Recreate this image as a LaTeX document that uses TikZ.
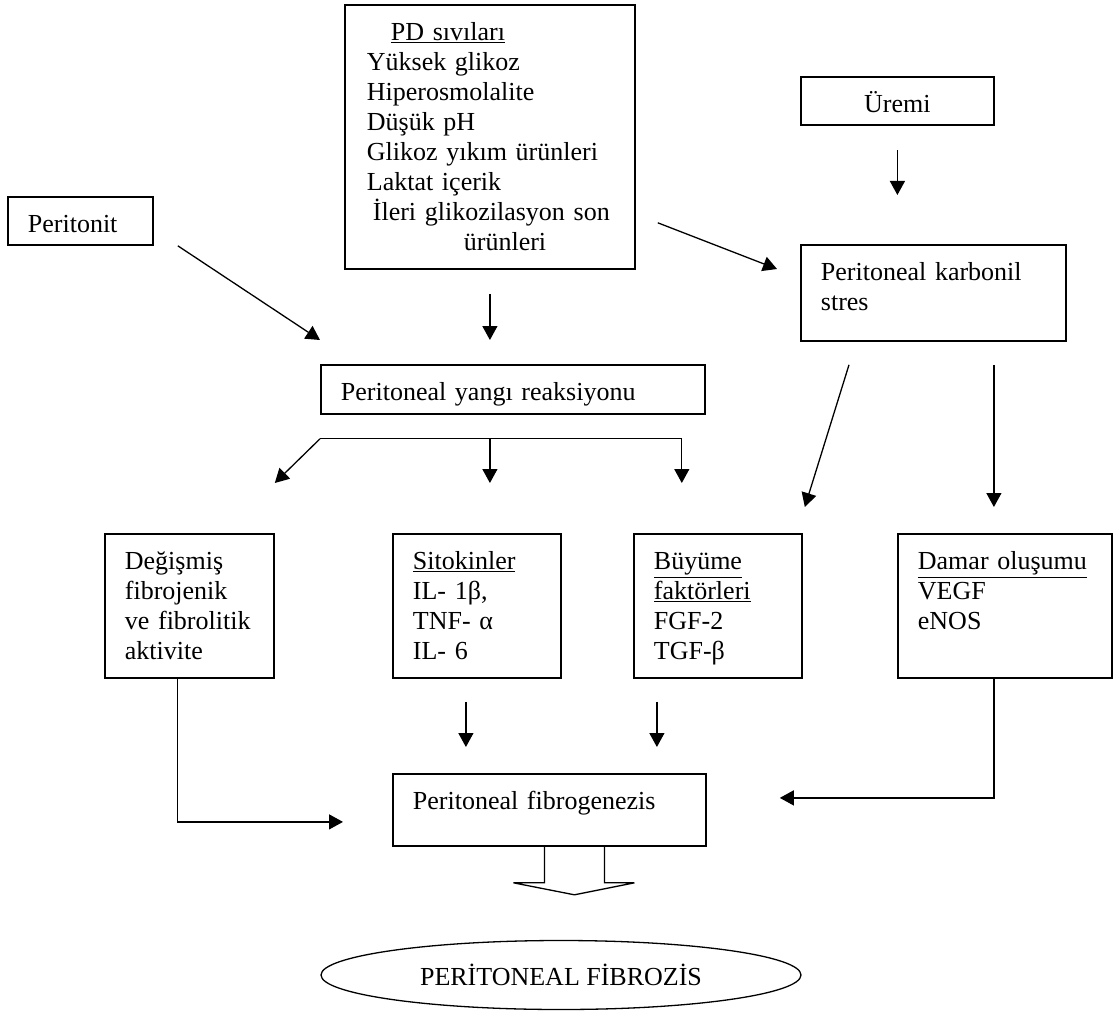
\documentclass[tikz,border=0pt]{standalone}
\usepackage{fontspec}
\setmainfont{Liberation Serif}
\usetikzlibrary{arrows.meta,shapes.geometric}
\tikzset{
    factor/.style={
        rectangle, draw, line width=1.8pt,
        anchor=north west, align=left,
        inner xsep=20pt, inner ysep=12pt,
        text height=24pt, text depth=0pt
    },
    outcome/.style={
        ellipse, draw, line width=1.3pt,
        minimum width=480pt, minimum height=69pt,
        inner sep=0pt
    }
}
\begin{document}
\begin{tikzpicture}[x=1pt, y=-1pt, >={Triangle[length=14pt,width=15pt]},
        line width=1.3pt, font=\fontsize{26}{30}\selectfont]

        \useasboundingbox (0,0) rectangle (1113,1011);

        % Causes
        \node[factor, text width=105pt] (peritonit) at (7,196) {Peritonit};
        \node[factor, inner xsep=22pt, text width=246pt, text depth=216pt] (pd) at (344,4)
            {\hspace*{24pt}\underline{PD sıvıları}\\Yüksek glikoz\\Hiperosmolalite\\Düşük pH\\Glikoz yıkım ürünleri\\Laktat içerik\\\hspace*{6pt}İleri glikozilasyon son\\\hspace*{97pt}ürünleri};
        \node[factor, align=center, text width=153pt] (uremi) at (800,76) {Üremi};
        \node[factor, text width=225pt, text depth=48pt] (karbonil) at (800,244) {Peritoneal karbonil\\stres};
        \node[factor, text width=344pt, text depth=1pt] (yangi) at (320,364) {Peritoneal yangı reaksiyonu};

        % Factors
        \node[factor, text width=129pt, text depth=96pt] (degismis) at (104,533) {Değişmiş\\fibrojenik\\ve fibrolitik\\aktivite};
        \node[factor, text width=128pt, text depth=96pt] (sitokin) at (392,533) {\underline{Sitokinler}\\IL- 1β,\\TNF- α\\IL- 6};
        \node[factor, text width=128pt, text depth=96pt] (buyume) at (633,533) {\underline{Büyüme}\\\underline{faktörleri}\\FGF-2\\TGF-β};
        \node[factor, text width=174pt, text depth=96pt] (damar) at (897,533) {\underline{Damar oluşumu}\\VEGF\\eNOS};

        % Outcome
        \node[factor, text width=273pt, text depth=24pt] (fib) at (392,773) {Peritoneal fibrogenezis};
        \node[outcome] (fibrozis) at (561,975) {PERİTONEAL FİBROZİS\hspace{23pt}};

        % Arrows
        \draw[->] ([xshift=24pt]peritonit.south east) -- ([yshift=24pt]yangi.north west);
        \draw[->, shorten <=24pt, shorten >=24pt] (pd.south) -- (pd.south |- yangi.north);
        \draw[->] ([xshift=22pt,yshift=47pt]pd.south east) -- ([xshift=-23pt,yshift=-25pt]karbonil.north west);
        \draw[->, shorten <=24pt, shorten >=49pt] (uremi.south) -- (uremi.south |- karbonil.north);

        \draw[->] ([xshift=49pt,yshift=-23pt]karbonil.south west) -- ([xshift=2pt,yshift=26pt]buyume.north east);
        \draw[->, shorten <=23pt, shorten >=26pt] ([xshift=-11pt]damar.north |- karbonil.south) -- ([xshift=-11pt]damar.north);

        \coordinate (brL) at ([yshift=-24pt]yangi.south west);
        \coordinate (brR) at ([xshift=-24pt,yshift=-24pt]yangi.south east);
        \draw (brL) -- (brR);
        \draw[->] (brL) -- ([yshift=50pt]degismis.north east);
        \draw[->, shorten >=50pt] (pd.south |- brL) -- (pd.south |- sitokin.north);
        \draw[->, shorten >=50pt] (brR) -- (brR |- buyume.north);

        \draw[->, shorten <=23pt, shorten >=26pt] ([xshift=-11pt]sitokin.south) -- ([xshift=-11pt]sitokin.south |- fib.north);
        \draw[->, shorten <=23pt, shorten >=26pt] ([xshift=-61pt]buyume.south) -- ([xshift=-61pt]buyume.south |- fib.north);
        \draw[->] ([xshift=-12pt]degismis.south) |- ([xshift=-49pt,yshift=-12pt]fib.west);
        \draw[->] ([xshift=-11pt]damar.south) |- ([xshift=73pt,yshift=12pt]fib.east);

        % Block arrow
        \draw ([xshift=-5pt]fib.south) -- ++(0,36) -- ++(-31,0) -- ++(61,12) -- ++(60,-12) -- ++(-30,0) -- ++(0,-36);

    \end{tikzpicture}
\end{document}
